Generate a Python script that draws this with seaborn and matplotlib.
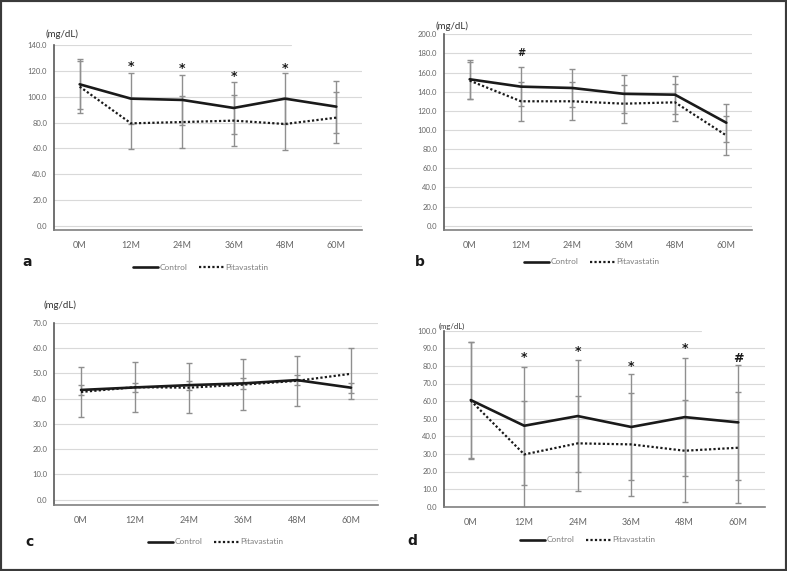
import numpy as np
import pandas as pd
import matplotlib
matplotlib.use('Agg')
import matplotlib.pyplot as plt
import seaborn as sns
from matplotlib.lines import Line2D
from matplotlib.patches import Rectangle

sns.set_theme(style='white')
plt.rcParams['font.family'] = ['Lato', 'DejaVu Sans']

# time points
months = ['0M', '12M', '24M', '36M', '48M', '60M']

# panel a
a_control = [109.6, 98.5, 97.5, 91.3, 98.5, 92.3]
a_control_sd = [19.3, 19.6, 19.5, 20.3, 19.5, 20.0]
a_pita = [107.8, 79.4, 80.4, 81.5, 78.9, 83.8]
a_pita_sd = [20.1, 19.6, 20.2, 19.5, 20.0, 19.6]
a_marks = ['*', '*', '*', '*']
a_mark_pos = [1, 2, 3, 4]
a_mark_y = [123, 122, 116, 122]

# panel b
b_control = [153.0, 145.3, 143.9, 137.8, 136.9, 107.6]
b_control_sd = [20.5, 20.2, 20.1, 19.7, 19.8, 20.0]
b_pita = [151.6, 130.0, 130.0, 127.5, 128.9, 94.3]
b_pita_sd = [19.0, 20.3, 19.7, 19.8, 19.5, 20.6]
b_marks = ['#']
b_mark_pos = [1]
b_mark_y = [180]

# panel c
c_control = [43.4, 44.4, 45.3, 46.0, 47.3, 44.3]
c_control_sd = [2.0, 1.9, 1.8, 2.1, 2.0, 2.0]
c_pita = [42.6, 44.5, 44.3, 45.5, 47.0, 49.8]
c_pita_sd = [10.0, 10.0, 9.9, 10.0, 10.0, 10.1]

# panel d
d_control = [60.6, 46.0, 51.5, 45.3, 50.9, 47.9]
d_control_sd = [33.2, 33.5, 31.6, 30.1, 33.4, 32.6]
d_pita = [60.3, 29.7, 36.0, 35.4, 31.8, 33.5]
d_pita_sd = [33.0, 30.3, 27.0, 29.2, 29.0, 31.5]
d_marks = ['*', '*', '*', '*', '#']
d_mark_pos = [1, 2, 3, 4, 5]
d_mark_y = [85, 88, 79.5, 90, 84.3]

W, H = 787, 571
fig = plt.figure(figsize=(W / 100, H / 100), dpi=100)
fig.patch.set_facecolor('white')


def place(l, t, r, b):
    return fig.add_axes([l / W, 1 - b / H, (r - l) / W, (b - t) / H])


def draw_panel(ax, control, control_sd, pita, pita_sd, ymin, ymax, step, short_top=None):
    pos = np.arange(len(months))
    df = pd.DataFrame({'pos': np.concatenate([pos, pos]),
                       'value': control + pita,
                       'group': ['Control'] * 6 + ['Pitavastatin'] * 6})
    ax.errorbar(pos, control, yerr=control_sd, fmt='none', ecolor='#8f8f8f',
                elinewidth=1, capsize=2.5, capthick=1, zorder=2)
    ax.errorbar(pos, pita, yerr=pita_sd, fmt='none', ecolor='#8f8f8f',
                elinewidth=1, capsize=2.5, capthick=1, zorder=2)
    sns.lineplot(data=df[df.group == 'Control'], x='pos', y='value', ax=ax,
                 color='#1a1a1a', lw=1.9, zorder=3)
    sns.lineplot(data=df[df.group == 'Pitavastatin'], x='pos', y='value', ax=ax,
                 color='#1a1a1a', lw=1.6, linestyle=(0, (1, 1)), zorder=3)
    ax.set_xlim(-0.5, 5.5)
    ax.set_ylim(ymin, ymax)
    ticks = np.arange(0, ymax + 0.01, step)
    ax.set_yticks(ticks)
    ax.set_yticklabels([f'{t:.1f}' for t in ticks])
    ax.set_xticks(pos)
    ax.set_xticklabels(months)
    ax.set_xlabel('')
    ax.set_ylabel('')
    for t in ticks:
        if short_top is not None and t == ticks[-1]:
            ax.axhline(t, xmax=short_top, color='#d9d9d9', lw=0.8, zorder=0)
        else:
            ax.axhline(t, color='#d9d9d9', lw=0.8, zorder=0)
    for s in ['top', 'right']:
        ax.spines[s].set_visible(False)
    ax.spines['left'].set_color('#595959')
    ax.spines['bottom'].set_color('#808080')
    ax.spines['left'].set_linewidth(1.2)
    ax.spines['bottom'].set_linewidth(1.2)
    ax.tick_params(axis='y', labelsize=5.5, colors='#666666', length=2, width=0.8, pad=3)
    ax.tick_params(axis='x', labelsize=6.5, colors='#666666', length=0, pad=8)
    ax.set_facecolor('none')


def add_marks(ax, marks, mpos, my, fs=9):
    for m, p, y in zip(marks, mpos, my):
        ax.text(p, y, m, ha='center', va='center', fontsize=fs, fontweight='bold',
                color='#1a1a1a', family='DejaVu Sans')


def add_legend(ax, cx, cy):
    handles = [Line2D([], [], color='#1a1a1a', lw=1.9),
               Line2D([], [], color='#1a1a1a', lw=1.6, linestyle=(0, (1, 1)))]
    leg = ax.legend(handles, ['Control', 'Pitavastatin'], loc='center',
                    bbox_to_anchor=(cx / W, 1 - cy / H), bbox_transform=fig.transFigure,
                    ncol=2, frameon=False, fontsize=6, handlelength=3.0,
                    handletextpad=0.2, columnspacing=1.3)
    for t in leg.get_texts():
        t.set_color('#7f7f7f')


ax_a = place(54, 45, 362, 230)
draw_panel(ax_a, a_control, a_control_sd, a_pita, a_pita_sd, -3.1, 140, 20, short_top=0.77)
add_marks(ax_a, a_marks, a_mark_pos, a_mark_y)
add_legend(ax_a, 201, 267)

ax_b = place(444, 34.3, 752, 230)
draw_panel(ax_b, b_control, b_control_sd, b_pita, b_pita_sd, -4.5, 200, 20)
add_marks(ax_b, b_marks, b_mark_pos, b_mark_y, fs=7)
add_legend(ax_b, 592, 262)

ax_c = place(54, 322.7, 378, 505)
draw_panel(ax_c, c_control, c_control_sd, c_pita, c_pita_sd, -2.1, 70, 10)
add_legend(ax_c, 216, 542)

ax_d = place(444, 330.7, 765, 506.7)
draw_panel(ax_d, d_control, d_control_sd, d_pita, d_pita_sd, 0, 100, 10, short_top=0.8)
add_marks(ax_d, d_marks, d_mark_pos, d_mark_y)
ax_d.set_xticks(np.arange(-0.5, 6, 1), minor=True)
ax_d.tick_params(axis='x', which='minor', length=3, width=0.8, color='#808080', direction='out')
add_legend(ax_d, 588, 540)

# unit labels and panel letters
for x, y, fs in [(62, 34, 7), (452, 26, 7), (60, 305, 7), (452, 326, 5.5)]:
    fig.text(x / W, 1 - y / H, '(mg/dL)', ha='center', va='center', fontsize=fs, color='#333333')
for x, y, lab in [(27, 262, 'a'), (420, 262, 'b'), (30, 542, 'c'), (412, 541, 'd')]:
    fig.text(x / W, 1 - y / H, lab, ha='center', va='center', fontsize=10,
             fontweight='bold', color='#1a1a1a', family='DejaVu Sans')

fig.patches.append(Rectangle((0, 0), 1, 1, transform=fig.transFigure, fill=False,
                             ec='#3a3a3a', lw=3))

fig.savefig('out.png', dpi=100)
